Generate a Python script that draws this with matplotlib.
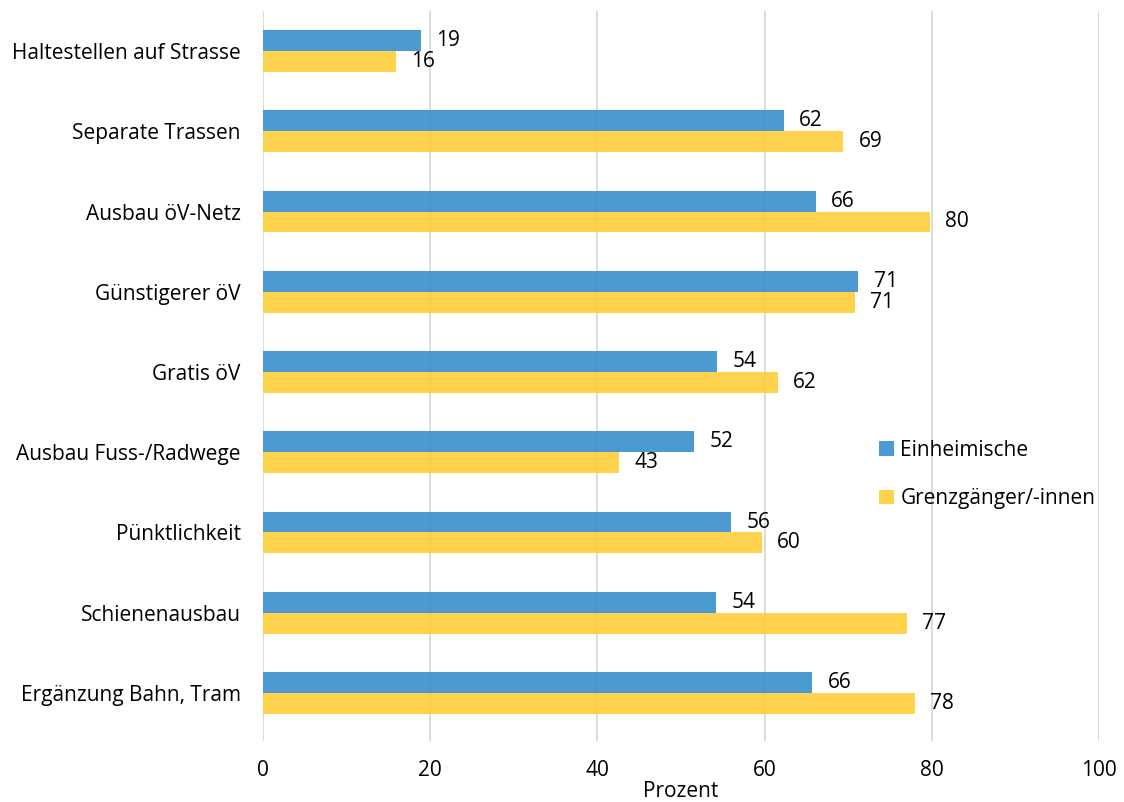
import numpy as np
import matplotlib.pyplot as plt

plt.rcParams['font.family'] = ['Open Sans', 'DejaVu Sans']

categories = ['Haltestellen auf Strasse', 'Separate Trassen', 'Ausbau öV-Netz',
              'Günstigerer öV', 'Gratis öV', 'Ausbau Fuss-/Radwege',
              'Pünktlichkeit', 'Schienenausbau', 'Ergänzung Bahn, Tram']
einheimische = [18.9, 62.3, 66.1, 71.2, 54.3, 51.6, 56.0, 54.2, 65.7]
grenzgaenger = [15.9, 69.4, 79.8, 70.8, 61.6, 42.6, 59.7, 77.0, 78.0]
xticks = [0, 20, 40, 60, 80, 100]

fig = plt.figure(figsize=(11.24, 8.02), dpi=100)
ax = fig.add_axes([263 / 1124, 1 - 741 / 802, 836 / 1124, 730 / 802])

idx = np.arange(len(categories))
h = 0.26

b1 = ax.barh(idx - h / 2, einheimische, h, color='#3a8fcd', alpha=0.9,
             label='Einheimische', zorder=2)
b2 = ax.barh(idx + h / 2, grenzgaenger, h, color='#ffcd3a', alpha=0.9,
             label='Grenzgänger/-innen', zorder=2)
ax.bar_label(b1, labels=[f'{v:.0f}' for v in einheimische], padding=11, fontsize=15)
ax.bar_label(b2, labels=[f'{v:.0f}' for v in grenzgaenger], padding=11, fontsize=15)

ax.set_yticks(idx)
ax.set_yticklabels(categories, fontsize=15)
ax.set_ylim(len(categories) - 0.4, -0.5)
ax.set_xlim(0, 100)
ax.set_xticks(xticks)
ax.set_xticklabels([str(t) for t in xticks], fontsize=15)
ax.tick_params(length=0)
ax.tick_params(axis='y', pad=16)
ax.tick_params(axis='x', pad=14)
ax.xaxis.grid(True, color='#d9d9d9', linewidth=1.3, zorder=0)
ax.set_axisbelow(True)
for s in ax.spines.values():
    s.set_visible(False)
ax.set_xlabel('Prozent', fontsize=15, labelpad=0)

ax.legend(loc='center left', bbox_to_anchor=(0.715, 0.365), frameon=False,
          fontsize=15, handlelength=0.7, handleheight=0.7, handletextpad=0.3,
          labelspacing=1.3)

fig.savefig('out.png', dpi=100)
